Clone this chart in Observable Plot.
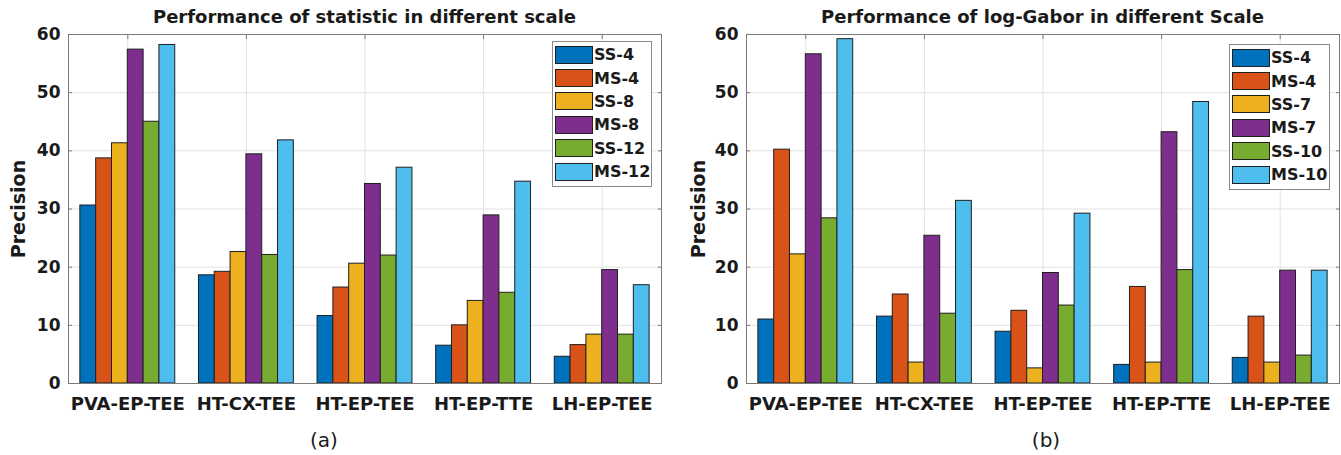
<!DOCTYPE html>
<html>
<head>
<meta charset="utf-8">
<script src="https://cdn.jsdelivr.net/npm/d3@7"></script>
<script src="https://cdn.jsdelivr.net/npm/@observablehq/plot@0.6"></script>
<style>
  html, body { margin: 0; padding: 0; background: #fff; }
  #root { position: relative; width: 1341px; height: 455px; overflow: hidden; background: #fff; }
  .chart { position: absolute; top: 0; height: 455px; }
  .title { position: absolute; top: 6px; text-align: center; font-family: "DejaVu Sans", sans-serif; font-weight: bold; font-size: 18px; color: #1a1a1a; white-space: nowrap; line-height: normal; }
  .caption { position: absolute; top: 428px; font-family: "DejaVu Sans", sans-serif; font-size: 20px; color: #1a1a1a; line-height: normal; transform: translateX(-50%); }
  .plotsvg { position: absolute; top: 26px; left: 0; }
  .legend { position: absolute; box-sizing: border-box; border: 1px solid #8a8a8a; background: #fff; padding: 1px 0 3px 2px; }
  .legend .row { height: 23.4px; display: flex; align-items: center; font-family: "DejaVu Sans", sans-serif; font-weight: bold; font-size: 16px; color: #1a1a1a; white-space: nowrap; }
  .legend .sw { width: 38px; height: 18px; box-sizing: border-box; border: 1px solid #1f1f1f; margin-right: 1px; flex: none; }
</style>
</head>
<body>
<div id="root"></div>
<script>
// ---- data ----
const categories = ["PVA-EP-TEE", "HT-CX-TEE", "HT-EP-TEE", "HT-EP-TTE", "LH-EP-TEE"];
const yTicks = [0, 10, 20, 30, 40, 50, 60];

// (a) statistic
const seriesStat = ["SS-4", "MS-4", "SS-8", "MS-8", "SS-12", "MS-12"];
const statSS4  = [30.6, 18.6, 11.6,  6.5,  4.6];
const statMS4  = [38.7, 19.2, 16.5, 10.0,  6.6];
const statSS8  = [41.3, 22.6, 20.6, 14.2,  8.4];
const statMS8  = [57.4, 39.4, 34.3, 28.9, 19.5];
const statSS12 = [45.0, 22.1, 22.0, 15.6,  8.4];
const statMS12 = [58.2, 41.8, 37.1, 34.7, 16.9];

// (b) log-Gabor
const seriesGabor = ["SS-4", "MS-4", "SS-7", "MS-7", "SS-10", "MS-10"];
const gaborSS4  = [11.0, 11.5,  8.9,  3.2,  4.4];
const gaborMS4  = [40.2, 15.3, 12.5, 16.6, 11.5];
const gaborSS7  = [22.2,  3.6,  2.6,  3.6,  3.6];
const gaborMS7  = [56.6, 25.4, 19.0, 43.2, 19.4];
const gaborSS10 = [28.4, 12.0, 13.4, 19.5,  4.8];
const gaborMS10 = [59.2, 31.4, 29.2, 48.4, 19.4];

const palette = ["#0072BD", "#D95319", "#EDB120", "#7E2F8E", "#77AC30", "#4DBEEE"];

function makeChart(cfg) {
  const root = document.getElementById("root");
  const div = document.createElement("div");
  div.className = "chart";
  div.style.left = cfg.left + "px";
  div.style.width = cfg.width + "px";
  root.appendChild(div);

  const rows = cfg.series.flatMap((s, si) =>
    cfg.values[si].map((v, ci) => ({cat: categories[ci], ci, series: s, si, value: v})));
  const n = cfg.series.length;
  const groupW = Math.min(0.8, n / (n + 1.5));
  const bw = groupW / n;
  const xt = d3.range(1, categories.length + 1);
  const font = {fontFamily: "DejaVu Sans", fontWeight: "bold"};

  const plot = Plot.plot({
    width: cfg.width,
    height: 397,
    marginTop: 8,
    marginBottom: 40,
    marginLeft: cfg.marginLeft,
    marginRight: cfg.marginRight,
    x: {type: "linear", domain: [0.5, categories.length + 0.5], label: null},
    y: {type: "linear", domain: [0, 60], label: null},
    color: {type: "ordinal", domain: cfg.series, range: palette},
    style: {fontFamily: "DejaVu Sans", color: "#1a1a1a", background: "white", overflow: "visible"},
    marks: [
      Plot.gridY(yTicks, {stroke: "#e2e2e2", strokeOpacity: 1}),
      Plot.gridX(xt, {stroke: "#e2e2e2", strokeOpacity: 1}),
      Plot.rect(rows, {
        x1: d => d.ci + 1 - groupW / 2 + d.si * bw,
        x2: d => d.ci + 1 - groupW / 2 + (d.si + 1) * bw,
        y1: 0,
        y2: "value",
        fill: "series",
        stroke: "#1f1f1f",
        strokeWidth: 1
      }),
      Plot.frame({stroke: "#7a7a7a", strokeWidth: 1}),
      Plot.axisY(yTicks, {anchor: "left", label: null, tickSize: -4, tickPadding: 12, stroke: "#7a7a7a", fill: "#1a1a1a", fontSize: 17, ...font}),
      Plot.axisY(yTicks, {anchor: "right", label: null, tickSize: -4, tickFormat: () => "", stroke: "#7a7a7a"}),
      Plot.axisX(xt, {anchor: "top", label: null, tickSize: -4, tickFormat: () => "", stroke: "#7a7a7a"}),
      Plot.axisX(xt, {anchor: "bottom", label: null, tickSize: 0, tickPadding: 14, tickFormat: i => categories[i - 1], fill: "#1a1a1a", fontSize: 18, ...font}),
      Plot.text(["Precision"], {frameAnchor: "left", rotate: -90, dx: cfg.labelDx, fontFamily: "DejaVu Sans", fontWeight: "bold", fontSize: 19, fill: "#1a1a1a", textAnchor: "middle"})
    ]
  });
  plot.classList.add("plotsvg");
  div.appendChild(plot);

  // title (centered on the frame)
  const frameW = cfg.width - cfg.marginLeft - cfg.marginRight;
  const t = document.createElement("div");
  t.className = "title";
  t.style.left = cfg.marginLeft + "px";
  t.style.width = frameW + "px";
  t.textContent = cfg.title;
  div.appendChild(t);

  // caption
  const c = document.createElement("div");
  c.className = "caption";
  c.style.left = cfg.captionX + "px";
  c.textContent = cfg.caption;
  div.appendChild(c);

  // legend inside the axes (top-right)
  const color = plot.scale("color");
  const lg = document.createElement("div");
  lg.className = "legend";
  lg.style.top = cfg.legendTop + "px";
  lg.style.width = cfg.legendWidth + "px";
  lg.style.left = (cfg.width - cfg.marginRight - 9 - cfg.legendWidth) + "px";
  cfg.series.forEach(s => {
    const r = document.createElement("div");
    r.className = "row";
    const sw = document.createElement("div");
    sw.className = "sw";
    sw.style.background = color.apply(s);
    r.appendChild(sw);
    r.appendChild(document.createTextNode(s));
    lg.appendChild(r);
  });
  div.appendChild(lg);
}

makeChart({
  left: 0, width: 670, marginLeft: 68, marginRight: 9,
  title: "Performance of statistic in different scale",
  series: seriesStat,
  values: [statSS4, statMS4, statSS8, statMS8, statSS12, statMS12],
  caption: "(a)", captionX: 324, labelDx: -49.5,
  legendTop: 41, legendWidth: 100
});
makeChart({
  left: 670, width: 671, marginLeft: 76, marginRight: 2,
  title: "Performance of log-Gabor in different Scale",
  series: seriesGabor,
  values: [gaborSS4, gaborMS4, gaborSS7, gaborMS7, gaborSS10, gaborMS10],
  caption: "(b)", captionX: 376, labelDx: -48,
  legendTop: 44, legendWidth: 101
});
</script>
</body>
</html>
